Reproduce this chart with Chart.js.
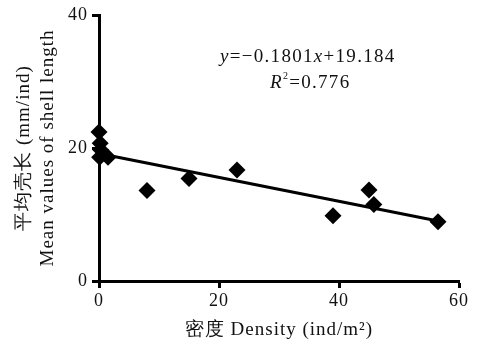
<!DOCTYPE html>
<html><head><meta charset="utf-8">
<script src="https://cdn.jsdelivr.net/npm/chart.js@4"></script>
<style>html,body{margin:0;padding:0;background:#fff}#wrap{width:482px;height:347px}</style>
</head><body><div id="wrap"><canvas id="c" width="482" height="347"></canvas></div>
<script>
const densityX = [0, 0.2, 0.3, 0.1, 1.5, 8, 15, 23, 39, 45, 45.8, 56.5];
const shellY   = [22.4, 20.7, 19.7, 18.6, 18.6, 13.6, 15.4, 16.7, 9.8, 13.7, 11.5, 8.9];
const fitSlope = -0.1801;
const fitIntercept = 19.184;
const fitRange = [0, 56.5];
const xTicks = [0, 20, 40, 60];
const yTicks = [0, 20, 40];
const xTitle = '密度 Density (ind/m²)';
const yTitle = ['平均壳长 (mm/ind)', 'Mean values of shell length'];

const serif = "'Liberation Serif','Times New Roman',serif";
const points = densityX.map((x, i) => ({x, y: shellY[i]}));
const fit = fitRange.map(x => ({x, y: fitSlope * x + fitIntercept}));

const spacingPlugin = {
  id: 'spacing',
  beforeDraw(chart) { chart.ctx.letterSpacing = '1px'; }
};

const eqPlugin = {
  id: 'eq',
  afterDraw(chart) {
    const {ctx} = chart;
    ctx.save();
    ctx.letterSpacing = '1.3px';
    ctx.fillStyle = '#111';
    ctx.textAlign = 'left';
    ctx.textBaseline = 'middle';
    const parts = [['y', true], ['=−' + Math.abs(fitSlope).toFixed(4), false], ['x', true], ['+' + fitIntercept.toFixed(3), false]];
    let xx = 220;
    const y1 = 57;
    parts.forEach(([t, it]) => {
      ctx.font = (it ? 'italic ' : '') + '19px ' + serif;
      ctx.fillText(t, xx, y1);
      xx += ctx.measureText(t).width;
    });
    ctx.font = 'italic 19px ' + serif;
    let x2 = 270;
    const y2 = 83;
    ctx.fillText('R', x2, y2); x2 += ctx.measureText('R').width;
    ctx.font = '10px ' + serif;
    ctx.fillText('2', x2, y2 - 7); x2 += ctx.measureText('2').width;
    ctx.font = '19px ' + serif;
    ctx.fillText('=0.776', x2, y2);
    ctx.restore();
  }
};

new Chart(document.getElementById('c'), {
  type: 'scatter',
  data: {
    datasets: [
      {
        label: 'data',
        data: points,
        pointStyle: 'rectRot',
        pointRadius: 8.5,
        pointHoverRadius: 8.5,
        backgroundColor: '#000',
        borderColor: '#000',
        borderWidth: 0,
        clip: false
      },
      {
        type: 'line',
        label: 'fit',
        data: fit,
        borderColor: '#000',
        borderWidth: 3,
        pointRadius: 0,
        fill: false,
        clip: false
      }
    ]
  },
  options: {
    responsive: false,
    animation: false,
    events: [],
    layout: {padding: {left: 0, right: 23, top: 15, bottom: 0}},
    plugins: {legend: {display: false}, tooltip: {enabled: false}},
    scales: {
      x: {
        type: 'linear', min: 0, max: 60,
        afterBuildTicks(s) { s.ticks = xTicks.map(v => ({value: v})); },
        afterFit(s) { s.height = 347 - 281; },
        border: {display: true, color: '#000', width: 3},
        grid: {display: true, drawOnChartArea: false, drawTicks: true, tickLength: 7, tickColor: '#000', tickWidth: 3},
        ticks: {color: '#111', font: {family: serif, size: 18}, padding: 2, maxRotation: 0},
        title: {display: true, text: xTitle, color: '#111', font: {family: serif, size: 19}, padding: {top: 0, bottom: 6}}
      },
      y: {
        type: 'linear', min: 0, max: 40,
        afterBuildTicks(s) { s.ticks = yTicks.map(v => ({value: v})); },
        afterFit(s) { s.width = 99; },
        border: {display: true, color: '#000', width: 3},
        grid: {display: true, drawOnChartArea: false, drawTicks: true, tickLength: 7, tickColor: '#000', tickWidth: 3},
        ticks: {color: '#111', font: {family: serif, size: 18}, padding: 4},
        title: {display: true, text: yTitle, color: '#111', font: {family: serif, size: 19, lineHeight: 1.25}, padding: {top: 12, bottom: 0}}
      }
    }
  },
  plugins: [spacingPlugin, eqPlugin]
});
</script></body></html>
